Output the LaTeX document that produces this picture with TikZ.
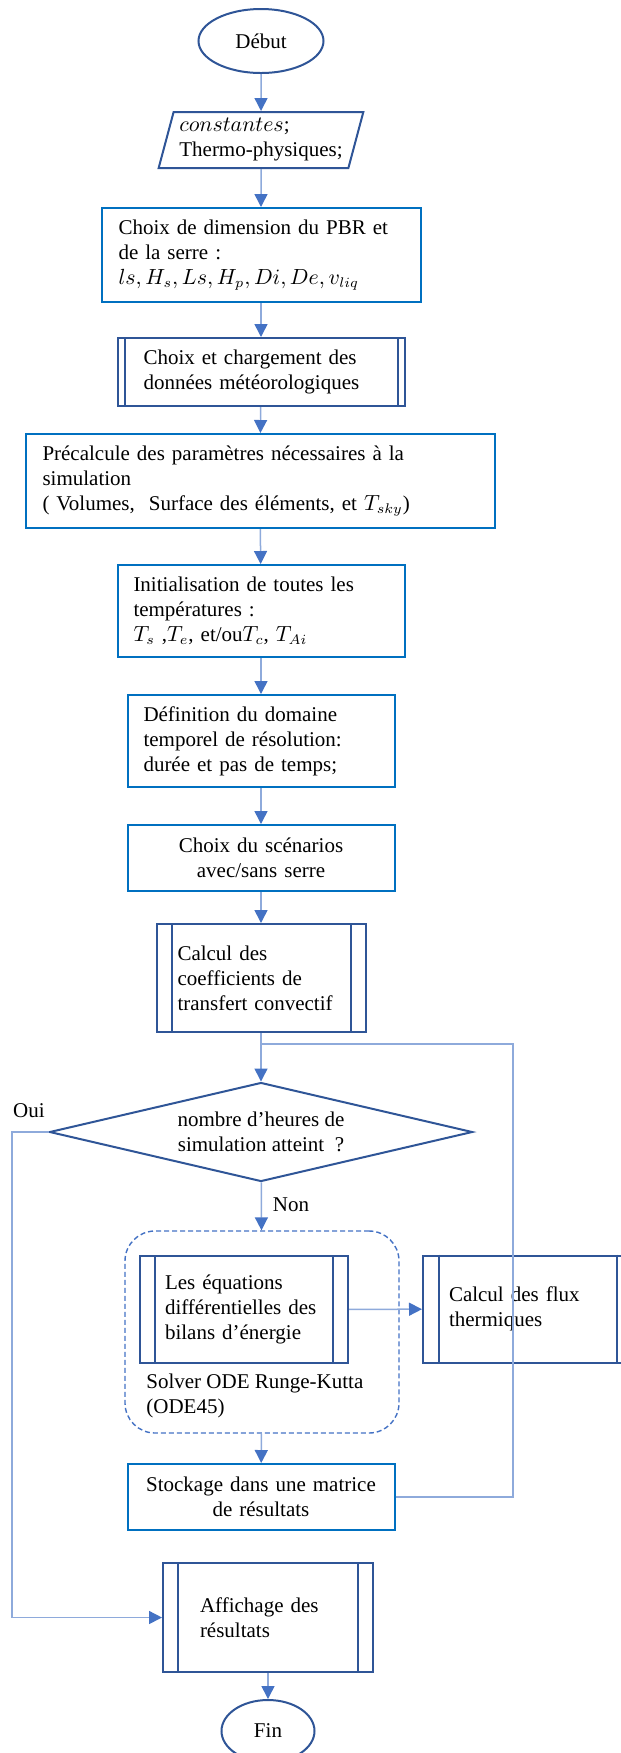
\documentclass[tikz,border=0pt]{standalone}
\usepackage{fontspec}
\setmainfont{Liberation Serif}
\usepackage{xcolor}
\usetikzlibrary{arrows.meta,shapes.geometric}
\definecolor{darkblue}{HTML}{2F5597}
\definecolor{brightblue}{HTML}{0070C0}
\definecolor{linkblue}{HTML}{8EAADB}
\definecolor{tipblue}{HTML}{4472C4}

\begin{document}
\begin{tikzpicture}[x=0.5pt, y=-0.5pt, font=\fontsize{10.5}{12.5}\selectfont,
        darkbox/.style={draw=darkblue, line width=1pt, fill=white},
        lightbox/.style={draw=brightblue, line width=1pt, fill=white},
        arr/.style={draw=linkblue, line width=0.75pt, -{Triangle[length=6.5pt,width=6.5pt,color=tipblue]}},
        link/.style={draw=linkblue, line width=0.75pt}]
        \useasboundingbox (0,0) rectangle (621,1753);
        \clip (0,0) rectangle (621,1753);
        % main column
        \node[darkbox, ellipse, minimum width=62.5pt, minimum height=32pt, inner sep=0pt] (debut) at (261,41) {Début};
        \node[darkbox, trapezium, trapezium left angle=72, trapezium right angle=108, trapezium stretches=true,
            minimum width=103pt, minimum height=28pt, inner sep=0pt, align=left] (const) at (261,140) {$constantes$;\\Thermo-physiques;};
        \node[lightbox, text width=142.5pt, inner xsep=8.5pt, minimum height=47pt, align=left] (dim) at (261,255)
            {Choix de dimension du PBR et\\de la serre :\\$ls, H_s, Ls, H_p, Di, De, v_{liq}$};
        \node[darkbox, text width=117.5pt, inner xsep=13pt, minimum height=34pt, align=left] (meteo) at (261,372)
            {Choix et chargement des\\données météorologiques};
        \node[lightbox, text width=217.5pt, inner xsep=8.5pt, minimum height=47pt, align=left] (precalc) at (260,481)
            {Précalcule des paramètres nécessaires à la\\simulation\\( Volumes, \ Surface des éléments, et $T_{sky}$)};
        \node[lightbox, text width=127.5pt, inner xsep=8pt, minimum height=46pt, align=left] (init) at (261,611)
            {Initialisation de toutes les\\températures :\\$T_s$ ,$T_e$, et/ou$T_c$, $T_{Ai}$};
        \node[lightbox, text width=117.5pt, inner xsep=8pt, minimum height=46pt, align=left] (domaine) at (261,741)
            {Définition du domaine\\temporel de résolution:\\durée et pas de temps;};
        \node[lightbox, text width=117.5pt, inner xsep=8pt, minimum height=33pt, align=center] (scenario) at (261,858)
            {Choix du scénarios\\avec/sans serre};
        \node[darkbox, text width=83.5pt, inner xsep=10.5pt, minimum height=54pt, align=left] (coeff) at (261,978)
            {Calcul des\\coefficients de\\transfert convectif};
        \coordinate (merge) at (261,1044);
        \node[darkbox, diamond, aspect=4.27, minimum width=211.5pt, minimum height=49.5pt, inner sep=0pt, align=center] (test) at (261,1132)
            {nombre d’heures de\\simulation atteint \ ?};
        \node (oui) at (29,1111) {Oui};
        \node (non) at (291,1205) {Non};
        % solver block
        \node[draw=tipblue, line width=0.7pt, dash pattern=on 2.5pt off 1.5pt, rounded corners=15pt,
            minimum width=137pt, minimum height=101pt] (solver) at (262,1332) {};
        \node[anchor=west, inner sep=0pt, align=left] (solvertxt) at (146,1396) {Solver ODE Runge-Kutta\\(ODE45)};
        \node[darkbox, text width=79pt, inner xsep=12.5pt, minimum height=53.5pt, align=left] (equ) at (244,1309.5)
            {Les équations\\différentielles des\\bilans d’énergie};
        \node[darkbox, text width=79pt, inner xsep=13pt, minimum height=53.5pt, align=left] (flux) at (528,1309)
            {Calcul des flux\\thermiques};
        \node[lightbox, text width=117.5pt, inner xsep=8pt, minimum height=33pt, align=center] (stock) at (261,1497)
            {Stockage dans une matrice\\de résultats};
        \node[darkbox, text width=68pt, inner xsep=18.5pt, minimum height=54.5pt, align=left] (affich) at (268,1617.5)
            {Affichage des\\résultats};
        \node[darkbox, ellipse, minimum width=46.5pt, minimum height=31pt, inner sep=0pt] (fin) at (268,1731) {Fin};
        % side bars of the sub-process boxes
        \foreach \n/\d in {meteo/4pt, coeff/8pt, equ/8pt, flux/8.5pt, affich/8pt} {
            \draw[darkblue, line width=1pt] ([xshift=\d]\n.north west) -- ([xshift=\d]\n.south west)
                ([xshift=-\d]\n.north east) -- ([xshift=-\d]\n.south east);
        }
        % connectors
        \foreach \a/\b in {debut/const, const/dim, dim/meteo, meteo/precalc, precalc/init, init/domaine,
            domaine/scenario, scenario/coeff, coeff/test, test/solver, solver/stock, equ/flux, affich/fin}
            \draw[arr] (\a) -- (\b);
        \draw[arr] (test.west) -- (12,1132) |- (affich.west);
        \draw[link] (stock.east) -- (513,1497) -- (513,1044) -- (merge);
    \end{tikzpicture}
\end{document}
